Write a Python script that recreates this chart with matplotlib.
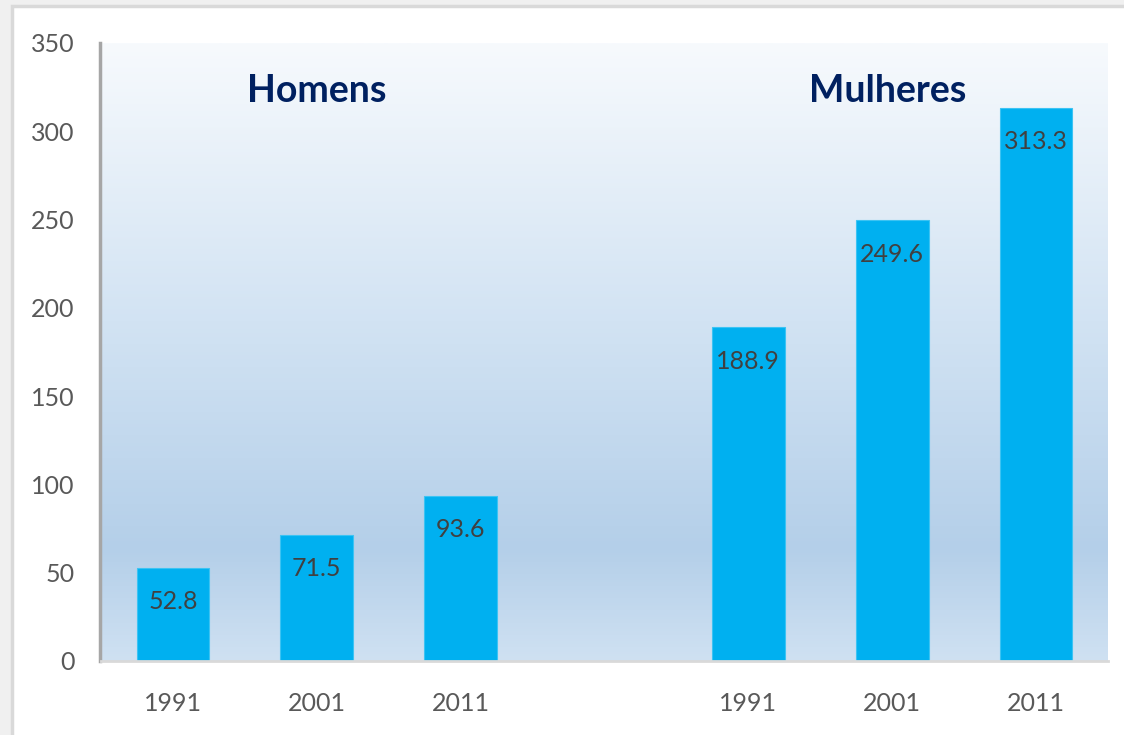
import numpy as np
import matplotlib
matplotlib.use("Agg")
import matplotlib.pyplot as plt
from matplotlib.colors import LinearSegmentedColormap
from matplotlib.patches import Rectangle

# ---- data ----
groups = ["Homens", "Mulheres"]
years = ["1991", "2001", "2011"]
homens = [52.8, 71.5, 93.6]
mulheres = [188.9, 249.6, 313.3]
yticks = [0, 50, 100, 150, 200, 250, 300, 350]

W, H = 1124, 735
fig = plt.figure(figsize=(W / 100, H / 100), dpi=100)
fig.patch.set_facecolor("#F0F0F0")
# white chart area with light border (left/top visible)
fig.patches.append(Rectangle((12 / W, -0.05), 1.2, (H - 6) / H + 0.05,
                             transform=fig.transFigure, facecolor="white",
                             edgecolor="#D9D9D9", linewidth=2.5, zorder=-10))

ax = fig.add_axes([101 / W, (H - 661) / H, (1108 - 101) / W, (661 - 43) / H])
ax.set_facecolor("none")

for s in ("top", "right"):
    ax.spines[s].set_visible(False)
ax.spines["left"].set_position(("outward", 1))
ax.spines["left"].set_color("#A6A6A6")
ax.spines["left"].set_linewidth(2.5)
ax.spines["bottom"].set_color("#D9D9D9")
ax.spines["bottom"].set_linewidth(2)

# gradient background
cmap = LinearSegmentedColormap.from_list(
    "bg", [(0.0, "#CFE1F2"), (0.18, "#B4CFE9"), (0.55, "#D2E3F3"), (1.0, "#F7FAFD")])
grad = np.linspace(0, 1, 256).reshape(-1, 1)
ax.imshow(grad, aspect="auto", cmap=cmap, origin="lower",
          extent=[-0.5, 6.5, 0, 350], zorder=0)

pos_h = np.arange(len(years))
pos_m = np.arange(len(years)) + len(years) + 1
bar_color = "#00B0F0"
bw = 0.505
ax.bar(pos_h, homens, width=bw, color=bar_color, edgecolor="#3CC3F3",
       linewidth=0.8, zorder=2)
ax.bar(pos_m, mulheres, width=bw, color=bar_color, edgecolor="#3CC3F3",
       linewidth=0.8, zorder=2)

fam = ["Lato", "DejaVu Sans"]
lab_font = dict(family=fam, fontsize=18, color="#404040")
for xs, vals in ((pos_h, homens), (pos_m, mulheres)):
    for x, v in zip(xs, vals):
        ax.annotate(f"{v:.1f}", (x, v), xytext=(0, -24.5), textcoords="offset points",
                    ha="center", va="center", zorder=3, **lab_font)

# group titles
title_font = dict(family=fam, fontsize=27, fontweight="bold", color="#002060")
ax.text(pos_h[1], 323, groups[0], ha="center", va="center", **title_font)
ax.text(pos_m[1] - 0.03, 323, groups[1], ha="center", va="center", **title_font)

ax.set_xlim(-0.5, 6.5)
ax.set_ylim(0, 350)
tick_font = dict(family=fam, fontsize=18, color="#595959")
ax.set_xticks(list(pos_h) + list(pos_m))
ax.set_xticklabels(years + years, **tick_font)
ax.set_yticks(yticks)
ax.set_yticklabels([str(t) for t in yticks], **tick_font)
ax.tick_params(axis="both", length=0, labelsize=18, labelcolor="#595959")
ax.tick_params(axis="y", pad=18)
ax.tick_params(axis="x", pad=22)

fig.savefig("out.png", dpi=100, facecolor=fig.get_facecolor())
